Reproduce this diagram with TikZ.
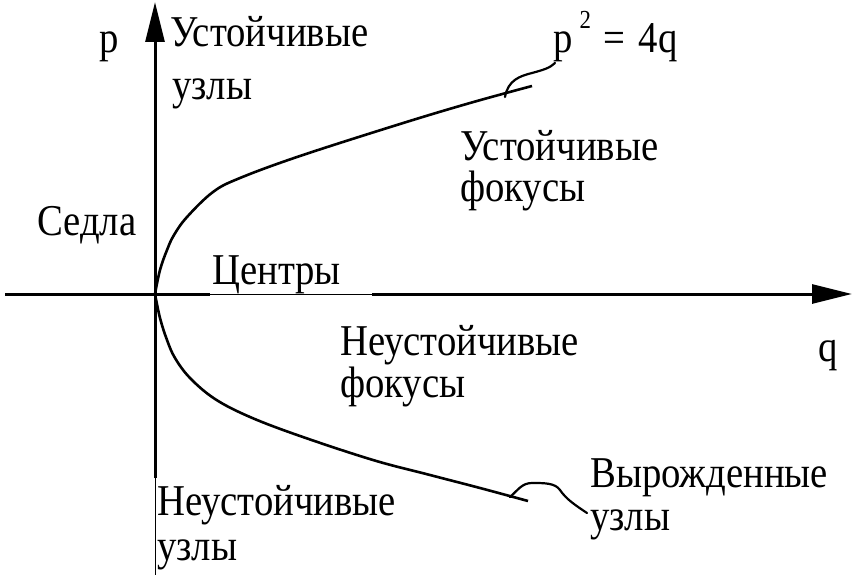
\documentclass[tikz,border=0pt]{standalone}
\usepackage{fontspec}
\setmainfont{Liberation Serif}[FakeStretch=0.88]
\usetikzlibrary{arrows.meta}
\begin{document}
\begin{tikzpicture}[x=1pt,y=-1pt,
  lbl/.style={anchor=base west,inner sep=0pt,font=\fontsize{44}{44}\selectfont},
  first/.style={lbl,text depth=0pt},
  axis/.style={line width=3pt,-{Triangle[length=40pt,width=19pt]}},
  curve/.style={line width=2.6pt},
  leader/.style={line width=2.2pt,line cap=round}]
\useasboundingbox (0,0) rectangle (866,577);
\fill[white] (0,0) rectangle (866,577);
% axes
\coordinate (O) at (155,294);
\coordinate (xs) at (5,294);
\coordinate (xe) at (852,294);
\coordinate (ys) at (155,478);
\coordinate (ye) at (155,2);
\coordinate (yb) at (155,575);
\draw[axis] (xs) -- (xe);
\draw[axis] (ys) -- (ye);
\draw[line width=0.8pt] (ys) -- (yb);
% Centry box
\fill[white] (210,290) rectangle (372,298);
\draw[line width=0.8pt] (210,294) -- (372,294);
% curves
\draw[curve] plot[smooth,tension=0.6] coordinates {(155,294) (160,270) (167,250) (174,235) (187,217) (213,192) (240,178) (300,156) (400,124) (470,103) (532,86)};
\draw[curve] plot[smooth,tension=0.6] coordinates {(155,294) (160,318) (167,340) (175,358) (190,378) (215,399) (250,417) (300,436) (373,460) (430,475) (480,488) (528,501)};
% leaders
\coordinate (l1a) at (505,97);
\coordinate (l1b) at (555,63);
\draw[leader] (l1a) .. controls (508,80) and (520,76) .. (532,73) .. controls (543,70) and (550,68) .. (l1b);
\coordinate (l2a) at (510,497);
\coordinate (l2b) at (587,513);
\draw[leader] (l2a) .. controls (518,490) and (522,483) .. (532,483) .. controls (545,483) and (555,483) .. (560,490) .. controls (566,499) and (575,505) .. (l2b);
% labels
\node[lbl] (p) at (99,53) {p};
\node[first] (su1) at (170,47) {Устойчивые};
\node[lbl] (su2) at (172,100) {узлы};
\node[lbl] (eq) at (553,53) {p\kern7pt\raisebox{24pt}{\fontsize{26}{26}\selectfont 2}\kern12pt=\kern14pt4q};
\node[first] (sf1) at (460,161) {Устойчивые};
\node[lbl] (sf2) at (460,202) {фокусы};
\node[lbl] (sed) at (37,235) {Седла};
\node[lbl] (cen) at (212,284) {Центры};
\node[first] (nf1) at (340,355) {Неустойчивые};
\node[lbl] (nf2) at (340,397) {фокусы};
\node[lbl] (q) at (818,361) {q};
\node[first] (vu1) at (590,487) {Вырожденные};
\node[lbl] (vu2) at (590,530) {узлы};
\node[first] (nu1) at (157,515) {Неустойчивые};
\node[lbl] (nu2) at (157,560) {узлы};
\end{tikzpicture}
\end{document}
